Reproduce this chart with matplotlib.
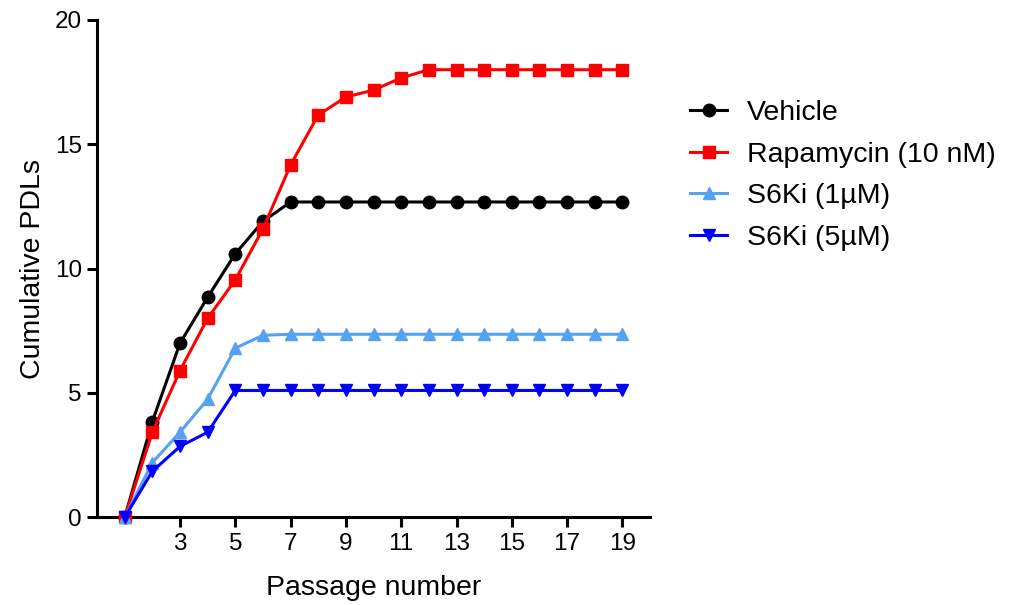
import matplotlib
matplotlib.use("Agg")
import matplotlib.pyplot as plt

plt.rcParams['font.family'] = ['Liberation Sans', 'DejaVu Sans']

passage = list(range(1, 20))

vehicle = [0, 3.85, 7.0, 8.85, 10.6, 11.9, 12.68] + [12.68] * 12
rapamycin = [0, 3.42, 5.9, 8.0, 9.55, 11.6, 14.17, 16.18, 16.9, 17.18, 17.67, 18.0] + [18.0] * 7
s6ki_1 = [0, 2.2, 3.42, 4.75, 6.8, 7.32] + [7.36] * 13
s6ki_5 = [0, 1.85, 2.85, 3.42, 5.1] + [5.1] * 14

series = [
    ("Vehicle", vehicle, "black", "o"),
    ("Rapamycin (10 nM)", rapamycin, "#ff0000", "s"),
    ("S6Ki (1\u00b5M)", s6ki_1, "#55a2f2", "^"),
    ("S6Ki (5\u00b5M)", s6ki_5, "#0000ff", "v"),
]

fig = plt.figure(figsize=(10.11, 6.05), dpi=100)
ax = fig.add_axes([0.096, 0.145, 0.547, 0.822])

for label, vals, color, marker in series:
    ax.plot(passage, vals, color=color, marker=marker, markersize=9,
            linewidth=2.2, label=label, clip_on=False, zorder=3)

ax.set_xlim(0, 20)
ax.set_ylim(0, 20)
ax.set_xticks(range(3, 20, 2))
ax.set_yticks([0, 5, 10, 15, 20])

for side in ["top", "right"]:
    ax.spines[side].set_visible(False)
for side in ["left", "bottom"]:
    ax.spines[side].set_linewidth(2.2)
ax.tick_params(axis="both", direction="out", length=7, width=2.2, labelsize=17.5, pad=4)

ax.set_xlabel("Passage number", fontsize=20.5, labelpad=15)
ax.set_ylabel("Cumulative PDLs", fontsize=20.5, labelpad=6)

fig.legend(loc="upper left", bbox_to_anchor=(0.663, 0.867), frameon=False,
           fontsize=20.5, handlelength=1.3, labelspacing=0.54, handletextpad=0.7,
           borderpad=0.2)

fig.savefig("out.png", dpi=100)
